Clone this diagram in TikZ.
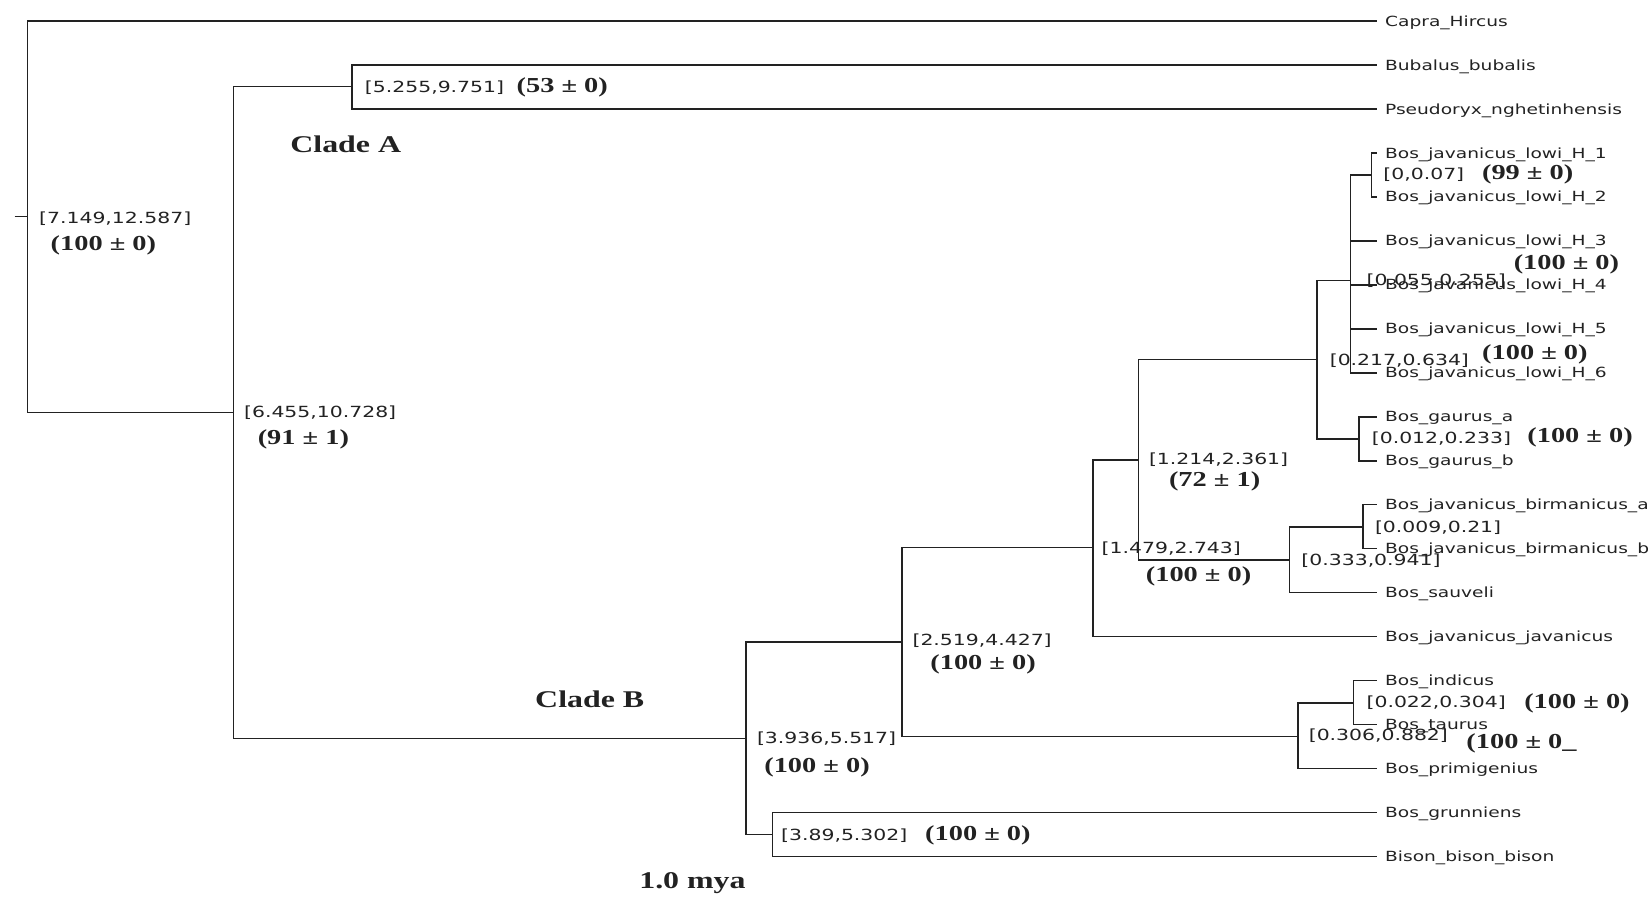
\documentclass[tikz,border=0pt]{standalone}
\usepackage{fontspec}
\setmainfont{Liberation Serif}
\newfontfamily\taxfont[FakeStretch=1.33]{DejaVu Sans}
\newfontfamily\supfont[FakeStretch=1.33]{Liberation Serif}
\usetikzlibrary{positioning}
\definecolor{ink}{HTML}{222222}
\tikzset{
  br/.style={draw=ink,line width=1.1pt},
  taxon/.style={anchor=west,inner xsep=6pt,inner ysep=0pt,text height=7.6pt,text depth=0pt,
    font=\taxfont\fontsize{10.5}{12}\selectfont,text=ink},
  hpd/.style={anchor=west,inner sep=0pt,font=\taxfont\fontsize{11.5}{13}\selectfont,text=ink},
  bsv/.style={anchor=west,inner sep=0pt,font=\supfont\bfseries\fontsize{16}{18}\selectfont,text=ink},
  clade/.style={anchor=west,inner sep=0pt,font=\supfont\bfseries\fontsize{18}{20}\selectfont,text=ink},
}

\begin{document}
\begin{tikzpicture}[x=0.7883pt,y=-0.7883pt]
  \useasboundingbox (0,0) rectangle (1568,853);
  % internal nodes
  \coordinate (stub) at (14,206);
  \coordinate (root) at (26,206);
  \coordinate (nAB) at (222,392.5);
  \coordinate (nA) at (335,82.5);
  \coordinate (nB) at (710,702.5);
  \coordinate (nYak) at (735,794);
  \coordinate (nBos) at (858,611);
  \coordinate (nBan) at (1040,521);
  \coordinate (nGau) at (1083,437.5);
  \coordinate (nLowG) at (1253,342);
  \coordinate (nLow) at (1285,267);
  \coordinate (nH12) at (1305,166.5);
  \coordinate (nGg) at (1293,417.5);
  \coordinate (nBS) at (1227,533);
  \coordinate (nBir) at (1297,501.5);
  \coordinate (nTP) at (1235,700.5);
  \coordinate (nIT) at (1288,669);
  % taxa
  \foreach \n/\t [count=\i from 0] in {capra/Capra\_Hircus,bubalus/Bubalus\_bubalis,
      pseudoryx/Pseudoryx\_nghetinhensis,
      lowiA/Bos\_javanicus\_lowi\_H\_1,lowiB/Bos\_javanicus\_lowi\_H\_2,
      lowiC/Bos\_javanicus\_lowi\_H\_3,lowiD/Bos\_javanicus\_lowi\_H\_4,
      lowiE/Bos\_javanicus\_lowi\_H\_5,lowiF/Bos\_javanicus\_lowi\_H\_6,
      gaurA/Bos\_gaurus\_a,gaurB/Bos\_gaurus\_b,
      birmA/Bos\_javanicus\_birmanicus\_a,birmB/Bos\_javanicus\_birmanicus\_b,
      sauveli/Bos\_sauveli,javjav/Bos\_javanicus\_javanicus,
      indicus/Bos\_indicus,taurus/Bos\_taurus,primig/Bos\_primigenius,
      grunn/Bos\_grunniens,bison/Bison\_bison\_bison}
    \node[taxon] (\n) at (1310,20+41.84*\i) {\t};
  % branches
  \draw[br] (stub) -- (root);
  \foreach \p/\c in {root/capra.west,root/nAB,nAB/nA,nAB/nB,
      nA/bubalus.west,nA/pseudoryx.west,
      nB/nBos,nB/nYak,nYak/grunn.west,nYak/bison.west,
      nBos/nBan,nBos/nTP,nBan/nGau,nBan/javjav.west,
      nGau/nLowG,nGau/nBS,nLowG/nLow,nLowG/nGg,
      nLow/nH12,nLow/lowiC.west,nLow/lowiD.west,nLow/lowiE.west,nLow/lowiF.west,
      nH12/lowiA.west,nH12/lowiB.west,nGg/gaurA.west,nGg/gaurB.west,
      nBS/nBir,nBS/sauveli.west,nBir/birmA.west,nBir/birmB.west,
      nTP/nIT,nTP/primig.west,nIT/indicus.west,nIT/taurus.west}
    \draw[br] (\p) |- (\c);
  % node ages and supports
  \node[hpd] (hRoot) at (37,208) {[7.149,12.587]};
  \node[bsv] (sRoot) at (48,233) {(100 ± 0)};
  \node[hpd] (hA) at (347,83) {[5.255,9.751]};
  \node[bsv,right=9pt of hA] (sA) {(53 ± 0)};
  \node[clade] (cA) at (276,137) {Clade A};
  \node[hpd] (hAB) at (232,393) {[6.455,10.728]};
  \node[bsv] (sAB) at (245,418) {(91 ± 1)};
  \node[clade] (cB) at (509,665) {Clade B};
  \node[hpd] (hB) at (720,703) {[3.936,5.517]};
  \node[bsv] (sB) at (727,730) {(100 ± 0)};
  \node[hpd] (hYak) at (743,795) {[3.89,5.302]};
  \node[bsv,right=13pt of hYak] (sYak) {(100 ± 0)};
  \node[hpd] (hBos) at (868,610) {[2.519,4.427]};
  \node[bsv] (sBos) at (885,632) {(100 ± 0)};
  \node[hpd] (hBan) at (1048,522) {[1.479,2.743]};
  \node[bsv] (sBan) at (1090,548) {(100 ± 0)};
  \node[hpd] (hGau) at (1093,437) {[1.214,2.361]};
  \node[bsv] (sGau) at (1112,458) {(72 ± 1)};
  \node[hpd] (hLowG) at (1265,343) {[0.217,0.634]};
  \node[bsv] (sLowG) at (1410,337) {(100 ± 0)};
  \node[hpd] (hLow) at (1300,267) {[0.055,0.255]};
  \node[bsv] (sLow) at (1440,252) {(100 ± 0)};
  \node[hpd] (hH12) at (1316,166) {[0,0.07]};
  \node[bsv,right=13pt of hH12] (sH12) {(99 ± 0)};
  \node[hpd] (hGg) at (1305,417) {[0.012,0.233]};
  \node[bsv] (sGg) at (1453,416) {(100 ± 0)};
  \node[hpd] (hBS) at (1238,533) {[0.333,0.941]};
  \node[hpd] (hBir) at (1308,502) {[0.009,0.21]};
  \node[hpd] (hTP) at (1245,700) {[0.306,0.882]};
  \node[bsv] (sTP) at (1395,707) {(100 ± 0\_};
  \node[hpd] (hIT) at (1300,669) {[0.022,0.304]};
  \node[bsv] (sIT) at (1450,669) {(100 ± 0)};
  \node[clade] (mya) at (608,840) {1.0 mya};
\end{tikzpicture}
\end{document}
